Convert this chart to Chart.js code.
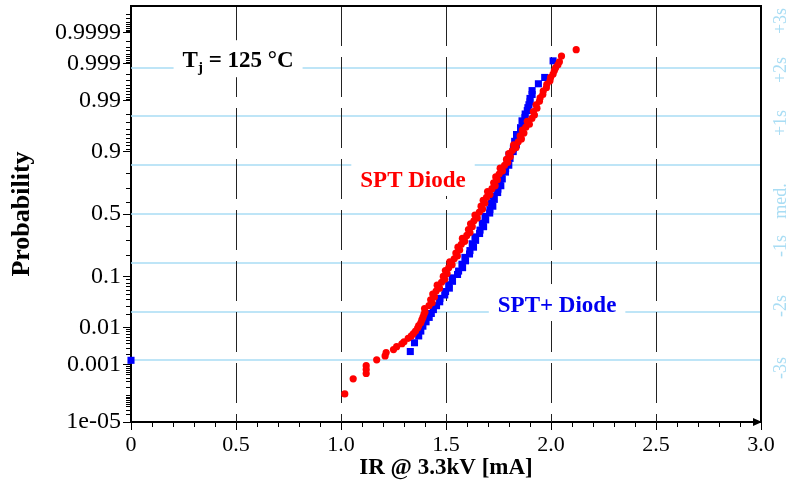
<!DOCTYPE html>
<html>
<head>
<meta charset="utf-8">
<script src="https://cdn.jsdelivr.net/npm/chart.js@4"></script>
<style>
  html, body { margin: 0; padding: 0; background: #fff; }
  #wrap { width: 790px; height: 484px; }
</style>
</head>
<body>
<div id="wrap"><canvas id="chart" width="790" height="484"></canvas></div>
<script>
"use strict";
///////////////////////////////
//Data (x = IR in mA, sigma = normal quantile of the plotting position)

// SPT Diode (red dots)
const sptX = [
  1.018, 1.058, 1.12, 1.12, 1.12, 1.17, 1.21, 1.215, 1.25, 1.265, 1.29, 1.3,
  1.32, 1.335, 1.345, 1.355, 1.365, 1.37, 1.38, 1.385, 1.39, 1.395, 1.4,
  1.398, 1.419, 1.434, 1.427, 1.445, 1.437, 1.453, 1.469, 1.458, 1.479,
  1.494, 1.487, 1.505, 1.497, 1.513, 1.529, 1.518, 1.539, 1.554, 1.547,
  1.565, 1.557, 1.573, 1.589, 1.578, 1.599, 1.614, 1.607, 1.625, 1.617,
  1.633, 1.649, 1.638, 1.659, 1.674, 1.667, 1.685, 1.677, 1.693, 1.709,
  1.698, 1.719, 1.734, 1.727, 1.745, 1.737, 1.753, 1.769, 1.758, 1.779,
  1.794, 1.788, 1.806, 1.799, 1.816, 1.833, 1.822, 1.844, 1.859, 1.853,
  1.871, 1.864, 1.88, 1.897, 1.887, 1.909,
  1.921, 1.916, 1.933, 1.929, 1.945, 1.948, 1.961, 1.963, 1.978, 1.98,
  1.995, 1.998, 2.01, 2.016, 2.022, 2.033, 2.04, 2.05, 2.12
];
const sptSigma = [
  -3.69, -3.38, -3.27, -3.19, -3.11, -2.99, -2.91, -2.84, -2.78, -2.72, -2.66, -2.62,
  -2.55, -2.5, -2.45, -2.4, -2.34, -2.29, -2.23, -2.17, -2.12, -2.06, -2.01,
  -1.94, -1.88, -1.82, -1.76, -1.7, -1.64, -1.58, -1.52, -1.46, -1.4,
  -1.34, -1.28, -1.22, -1.16, -1.1, -1.04, -0.98, -0.92, -0.86, -0.8,
  -0.74, -0.68, -0.62, -0.56, -0.5, -0.44, -0.38, -0.32, -0.26, -0.2,
  -0.14, -0.08, -0.02, 0.04, 0.1, 0.16, 0.22, 0.28, 0.34, 0.4,
  0.46, 0.52, 0.58, 0.64, 0.7, 0.76, 0.82, 0.88, 0.94, 1.0,
  1.06, 1.12, 1.18, 1.24, 1.3, 1.36, 1.42, 1.48, 1.54, 1.6,
  1.66, 1.72, 1.78, 1.84, 1.9, 1.96,
  2.03, 2.1, 2.17, 2.24, 2.31, 2.38, 2.45, 2.52, 2.59, 2.66,
  2.73, 2.8, 2.87, 2.94, 3.0, 3.06, 3.12, 3.24, 3.37
];

// SPT+ Diode (blue squares)
const sptPlusX = [
  0,
  1.33, 1.35, 1.37, 1.38, 1.39, 1.405, 1.42, 1.43, 1.44, 1.455, 1.47,
  1.471, 1.494, 1.498, 1.516, 1.513, 1.531, 1.53, 1.555, 1.56, 1.579,
  1.576, 1.593, 1.59, 1.612, 1.614, 1.631, 1.625, 1.641, 1.638, 1.66,
  1.662, 1.679, 1.673, 1.689, 1.686, 1.708, 1.709, 1.723, 1.716, 1.73,
  1.725, 1.746, 1.747, 1.761, 1.754, 1.768, 1.763, 1.783, 1.784, 1.799,
  1.791, 1.805, 1.8, 1.82, 1.821, 1.835, 1.827, 1.841, 1.836, 1.856,
  1.855, 1.87, 1.862, 1.876, 1.877, 1.887,
  1.89, 1.895, 1.9, 1.9, 1.91, 1.91, 1.94, 1.97, 2.01
];
const sptPlusSigma = [
  -3.0,
  -2.82, -2.64, -2.5, -2.4, -2.3, -2.21, -2.12, -2.04, -1.96, -1.88, -1.8,
  -1.73, -1.66, -1.59, -1.52, -1.45, -1.38, -1.31, -1.24, -1.17, -1.1,
  -1.03, -0.96, -0.89, -0.82, -0.75, -0.68, -0.61, -0.54, -0.47, -0.4,
  -0.33, -0.26, -0.19, -0.12, -0.05, 0.02, 0.09, 0.16, 0.23, 0.3,
  0.37, 0.44, 0.51, 0.58, 0.65, 0.72, 0.79, 0.86, 0.93, 1.0,
  1.07, 1.14, 1.21, 1.28, 1.35, 1.42, 1.49, 1.56, 1.63, 1.7,
  1.77, 1.84, 1.91, 1.98, 2.05, 2.12,
  2.18, 2.24, 2.3, 2.37, 2.45, 2.53, 2.67, 2.8, 3.14
];

// axis ticks
const yTickProbs = [0.00001, 0.001, 0.01, 0.1, 0.5, 0.9, 0.99, 0.999, 0.9999];
const yTickLabels = ["1e-05", "0.001", "0.01", "0.1", "0.5", "0.9", "0.99", "0.999", "0.9999"];
const xGridValues = [0.5, 1, 1.5, 2, 2.5];
const sigmaLevels = [-3, -2, -1, 0, 1, 2, 3];
const sigmaLabels = ["-3s", "-2s", "-1s", "med.", "+1s", "+2s", "+3s"];

//////////////////////////////
//Functions

// inverse normal cdf (Acklam)
const probit = function (p) {
  const a = [-39.69683028665376, 220.9460984245205, -275.9285104469687, 138.357751867269, -30.66479806614716, 2.506628277459239];
  const b = [-54.47609879822406, 161.5858368580409, -155.6989798598866, 66.80131188771972, -13.28068155288572];
  const c = [-0.007784894002430293, -0.3223964580411365, -2.400758277161838, -2.549732539343734, 4.374664141464968, 2.938163982698783];
  const d = [0.007784695709041462, 0.3224671290700398, 2.445134137142996, 3.754408661907416];
  const pl = 0.02425;
  let q, r;
  if (p < pl) {
    q = Math.sqrt(-2 * Math.log(p));
    return (((((c[0] * q + c[1]) * q + c[2]) * q + c[3]) * q + c[4]) * q + c[5]) /
      ((((d[0] * q + d[1]) * q + d[2]) * q + d[3]) * q + 1);
  }
  if (p > 1 - pl) {
    q = Math.sqrt(-2 * Math.log(1 - p));
    return -(((((c[0] * q + c[1]) * q + c[2]) * q + c[3]) * q + c[4]) * q + c[5]) /
      ((((d[0] * q + d[1]) * q + d[2]) * q + d[3]) * q + 1);
  }
  q = p - 0.5;
  r = q * q;
  return (((((a[0] * r + a[1]) * r + a[2]) * r + a[3]) * r + a[4]) * r + a[5]) * q /
    (((((b[0] * r + b[1]) * r + b[2]) * r + b[3]) * r + b[4]) * r + 1);
};

const toPoints = function (xs, ys) {
  return xs.map(function (v, i) {
    return { x: v, y: ys[i] };
  });
};

// minor probability ticks
const minorProbs = [0.0001, 0.2, 0.3, 0.4, 0.6, 0.7, 0.8];
[0.01, 0.001, 0.0001, 0.00001].forEach(function (dec) {
  for (let k = 2; k <= 9; k++) {
    minorProbs.push(k * dec);
    minorProbs.push(1 - k * dec);
  }
});

const serif = "'Liberation Serif', 'Times New Roman', serif";
const sigmaColor = "#a9ddf4";
const yMin = probit(0.00001);

// white-boxed bold label
const boxedLabel = function (ctx, x, y, text, color) {
  ctx.font = "bold 23px " + serif;
  const w = ctx.measureText(text).width;
  ctx.fillStyle = "#fff";
  ctx.fillRect(x - w / 2 - 9, y - 28, w + 18, 37);
  ctx.fillStyle = color;
  ctx.textAlign = "center";
  ctx.textBaseline = "alphabetic";
  ctx.fillText(text, x, y);
};

const decor = {
  id: "decor",
  beforeDatasetsDraw: function (chart) {
    const ctx = chart.ctx;
    const ca = chart.chartArea;
    const xs = chart.scales.x;
    const ys = chart.scales.y;
    ctx.save();
    // sigma lines
    ctx.strokeStyle = sigmaColor;
    ctx.lineWidth = 1.5;
    sigmaLevels.forEach(function (s) {
      const py = Math.round(ys.getPixelForValue(s));
      ctx.beginPath();
      ctx.moveTo(ca.left, py);
      ctx.lineTo(ca.right, py);
      ctx.stroke();
    });
    // dashed verticals
    ctx.strokeStyle = "#222";
    ctx.lineWidth = 1;
    ctx.setLineDash([40, 11]);
    xGridValues.forEach(function (v) {
      const px = Math.round(xs.getPixelForValue(v)) + 0.5;
      ctx.beginPath();
      ctx.moveTo(px, ca.top);
      ctx.lineTo(px, ca.bottom);
      ctx.stroke();
    });
    ctx.setLineDash([]);

    // Tj label
    const tx = xs.getPixelForValue(0.51);
    const ty = ys.getPixelForValue(3.01);
    ctx.font = "bold 23px " + serif;
    const wT = ctx.measureText("T").width;
    const rest = " = 125 \u00B0C";
    const wR = ctx.measureText(rest).width;
    ctx.font = "bold 15px " + serif;
    const wJ = ctx.measureText("j").width;
    const total = wT + wJ + wR;
    ctx.fillStyle = "#fff";
    ctx.fillRect(tx - total / 2 - 9, ty - 27, total + 18, 37);
    let cx = tx - total / 2;
    ctx.fillStyle = "#000";
    ctx.textAlign = "left";
    ctx.textBaseline = "alphabetic";
    ctx.font = "bold 23px " + serif;
    ctx.fillText("T", cx, ty);
    cx += wT;
    ctx.font = "bold 15px " + serif;
    ctx.fillText("j", cx, ty + 5);
    cx += wJ;
    ctx.font = "bold 23px " + serif;
    ctx.fillText(rest, cx, ty);

    boxedLabel(ctx, xs.getPixelForValue(1.343), ys.getPixelForValue(0.554), "SPT Diode", "#f00");
    boxedLabel(ctx, xs.getPixelForValue(2.029), ys.getPixelForValue(-2.01), "SPT+ Diode", "#0000f0");
    ctx.restore();
  },
  afterDraw: function (chart) {
    const ctx = chart.ctx;
    const ca = chart.chartArea;
    const xs = chart.scales.x;
    const ys = chart.scales.y;
    ctx.save();
    // frame top / right
    ctx.strokeStyle = "#000";
    ctx.lineWidth = 2;
    ctx.beginPath();
    ctx.moveTo(ca.left - 1, ca.top);
    ctx.lineTo(ca.right, ca.top);
    ctx.lineTo(ca.right, ca.bottom);
    ctx.stroke();
    // minor ticks
    ctx.lineWidth = 1;
    minorProbs.forEach(function (p) {
      const py = Math.round(ys.getPixelForValue(probit(p))) + 0.5;
      ctx.beginPath();
      ctx.moveTo(ca.left - 5, py);
      ctx.lineTo(ca.left, py);
      ctx.stroke();
    });
    for (let k = 1; k < 30; k++) {
      if (k % 5 === 0) continue;
      const px = Math.round(xs.getPixelForValue(k / 10)) + 0.5;
      ctx.beginPath();
      ctx.moveTo(px, ca.bottom);
      ctx.lineTo(px, ca.bottom + 5);
      ctx.stroke();
    }
    // arrow head on x axis
    ctx.fillStyle = "#000";
    ctx.beginPath();
    ctx.moveTo(ca.right + 1, ca.bottom);
    ctx.lineTo(ca.right - 8, ca.bottom - 4);
    ctx.lineTo(ca.right - 8, ca.bottom + 4);
    ctx.closePath();
    ctx.fill();
    // sigma labels on the right
    ctx.fillStyle = sigmaColor;
    ctx.font = "18px " + serif;
    ctx.textAlign = "center";
    ctx.textBaseline = "middle";
    const labelY = [368, 306, 246, 201, 123, 70, 21];
    sigmaLabels.forEach(function (t, i) {
      ctx.save();
      ctx.translate(781, labelY[i]);
      ctx.rotate(-Math.PI / 2);
      ctx.fillText(t, 0, 0);
      ctx.restore();
    });
    ctx.restore();
  }
};

//////////////////////////
//Chart
Chart.defaults.font.family = serif;
Chart.defaults.color = "#000";

const chart = new Chart(document.getElementById("chart"), {
  type: "scatter",
  data: {
    datasets: [
      {
        label: "SPT Diode",
        data: toPoints(sptX, sptSigma),
        pointStyle: "circle",
        pointRadius: 3.6,
        backgroundColor: "#ff0000",
        borderWidth: 0,
        clip: false,
      },
      {
        label: "SPT+ Diode",
        data: toPoints(sptPlusX, sptPlusSigma),
        pointStyle: "rect",
        pointRadius: 5,
        backgroundColor: "#0000ff",
        borderWidth: 0,
        clip: false,
      },
    ],
  },
  plugins: [decor],
  options: {
    responsive: false,
    animation: false,
    layout: { padding: { top: 6, right: 29, left: 0, bottom: 0 } },
    plugins: { legend: { display: false }, tooltip: { enabled: false } },
    scales: {
      x: {
        type: "linear",
        min: 0,
        max: 3,
        afterFit: function (s) {
          s.height = 62;
        },
        ticks: { stepSize: 0.5, padding: 2, font: { size: 22 }, maxRotation: 0 },
        grid: { drawOnChartArea: false, tickLength: 8, tickColor: "#000" },
        border: { color: "#000", width: 2 },
        title: {
          display: true,
          text: "IR @ 3.3kV [mA]",
          font: { size: 23, weight: "bold" },
          padding: { top: 0, bottom: 2 },
        },
      },
      y: {
        type: "linear",
        min: yMin,
        max: -yMin,
        afterFit: function (s) {
          s.width = 131;
          s.paddingTop = 0;
          s.paddingBottom = 0;
        },
        afterBuildTicks: function (s) {
          s.ticks = yTickProbs.map(function (p) {
            return { value: probit(p) };
          });
        },
        ticks: {
          autoSkip: false,
          padding: 2,
          font: { size: 24 },
          callback: function (value, index) {
            return yTickLabels[index];
          },
        },
        grid: { drawOnChartArea: false, tickLength: 8, tickColor: "#000" },
        border: { color: "#000", width: 2 },
        title: {
          display: true,
          text: "Probability",
          font: { size: 26, weight: "bold" },
          padding: { top: 7, bottom: 0 },
        },
      },
    },
  },
});
</script>
</body>
</html>
